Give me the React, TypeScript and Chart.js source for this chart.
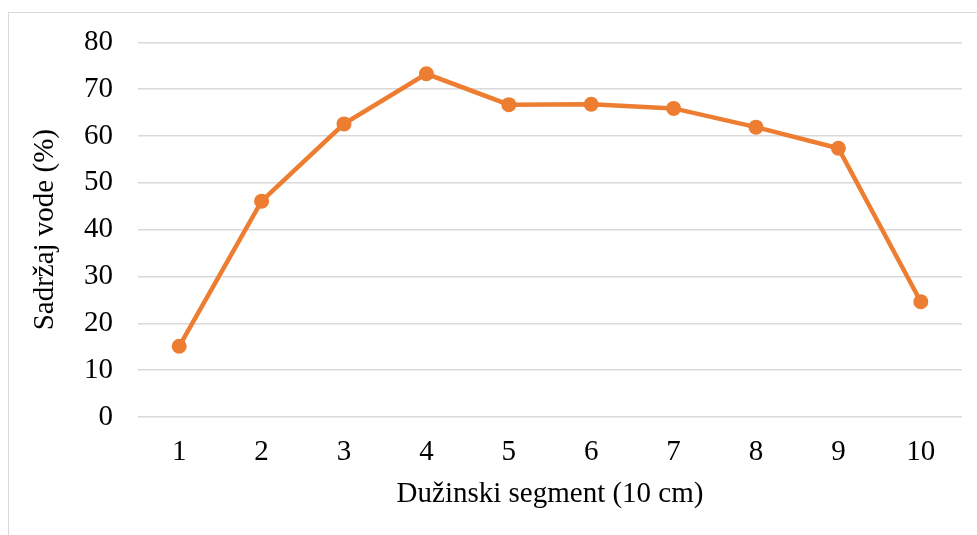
import React, { useEffect, useRef } from "react";
import { Chart, registerables } from "chart.js";

Chart.register(...registerables);

const categories = ["1", "2", "3", "4", "5", "6", "7", "8", "9", "10"];
const waterContent = [15.1, 46.1, 62.6, 73.3, 66.7, 66.8, 65.9, 61.9, 57.4, 24.6];
const yTicks = [0, 10, 20, 30, 40, 50, 60, 70, 80];
const xTitle = "Dužinski segment (10 cm)";
const yTitle = "Sadržaj vode (%)";

const FONT = "'Liberation Serif', 'Times New Roman', serif";
const FS = 29;

export default function App() {
  const ref = useRef<HTMLCanvasElement | null>(null);

  useEffect(() => {
    if (!ref.current) return;
    const chart = new Chart(ref.current, {
      type: "line",
      data: {
        labels: categories,
        datasets: [
          {
            data: waterContent,
            borderColor: "#ED7D31",
            backgroundColor: "#ED7D31",
            borderWidth: 4.5,
            pointRadius: 7.5,
            pointBorderWidth: 0,
            pointBackgroundColor: "#ED7D31",
            tension: 0,
          },
        ],
      },
      options: {
        responsive: false,
        animation: false,
        layout: { padding: { left: 28, right: 15, top: 42, bottom: 23 } },
        plugins: { legend: { display: false }, tooltip: { enabled: false } },
        scales: {
          x: {
            type: "category",
            offset: true,
            grid: { display: false, drawTicks: false },
            border: { display: false },
            ticks: {
              color: "#000",
              font: { family: FONT, size: FS },
              padding: 18,
              maxRotation: 0,
            },
            title: {
              display: true,
              text: xTitle,
              color: "#000",
              font: { family: FONT, size: FS },
              padding: { top: 0, bottom: 0 },
            },
            afterFit: (s: any) => {
              s.height = 95;
            },
          },
          y: {
            min: 0,
            max: 80,
            afterBuildTicks: (s: any) => {
              s.ticks = yTicks.map((v) => ({ value: v }));
            },
            grid: { color: "#d9d9d9", lineWidth: 1.5, drawTicks: false },
            border: { display: false },
            ticks: {
              color: "#000",
              font: { family: FONT, size: FS },
              padding: 25,
            },
            title: {
              display: true,
              text: yTitle,
              color: "#000",
              font: { family: FONT, size: FS },
              padding: { top: 0, bottom: 0 },
            },
            afterFit: (s: any) => {
              s.width = 110;
            },
          },
        },
      },
    });
    return () => chart.destroy();
  }, []);

  return (
    <div style={{ position: "fixed", left: 0, top: 0, width: 977, height: 535, overflow: "hidden", background: "#fff" }}>
      <div
        style={{
          position: "absolute",
          left: 8,
          top: 12,
          width: 1000,
          height: 600,
          border: "1.5px solid #d9d9d9",
          boxSizing: "border-box",
        }}
      />
      <canvas ref={ref} width={977} height={535} style={{ position: "absolute", left: 0, top: 0 }} />
    </div>
  );
}
